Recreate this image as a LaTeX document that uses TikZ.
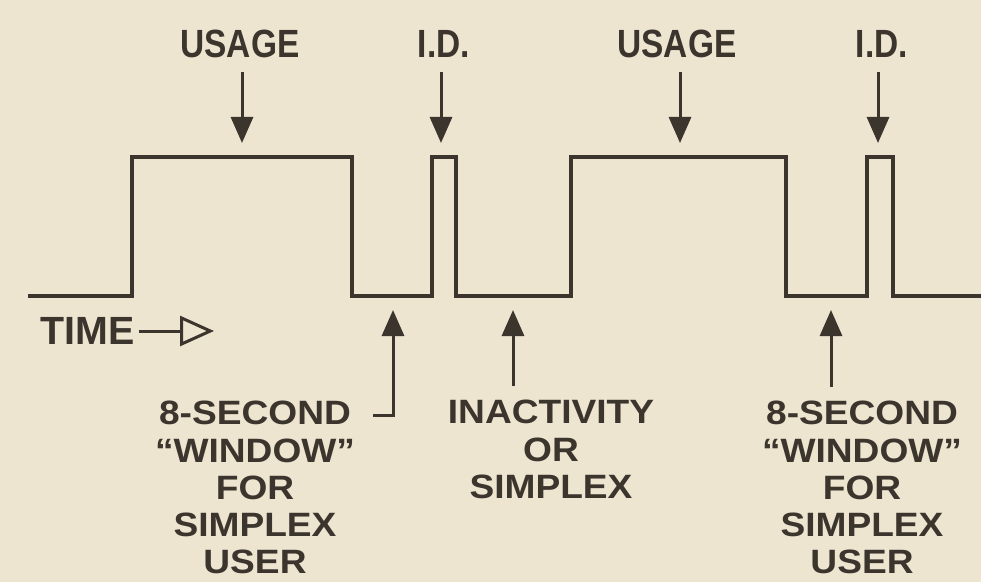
\documentclass[tikz,border=0pt]{standalone}
\usepackage{fontspec}
\setmainfont{Liberation Sans}
\newfontfamily\narrowsf[FakeStretch=0.85,Ligatures=TeX]{Liberation Sans Bold}
\newfontfamily\widesf[FakeStretch=1.1,Ligatures=TeX]{Liberation Sans Bold}
\newfontfamily\plainsf[Ligatures=TeX]{Liberation Sans Bold}
\usetikzlibrary{arrows.meta,positioning}
\definecolor{cInk}{HTML}{3B352E}
\definecolor{cPaper}{HTML}{EDE5D0}
\tikzset{
  >={Triangle[length=6.5mm,width=5.5mm]},
  wave/.style={line width=0.8mm,cInk,line join=miter},
  ar/.style ={->,line width=0.75mm,cInk},
  toplbl/.style={font=\narrowsf\fontsize{28}{30}\selectfont,text=cInk,inner sep=0pt},
  timelbl/.style={font=\plainsf\fontsize{28}{30}\selectfont,text=cInk,inner sep=0pt},
  botlbl/.style={font=\widesf\fontsize{24}{26.5}\selectfont,text=cInk,align=center,inner sep=0pt,anchor=north},
}

\begin{document}
\begin{tikzpicture}[x=0.25mm,y=-0.25mm]
\fill[cPaper] (0,0) rectangle (981,582);
\useasboundingbox (0,0) rectangle (981,582);
% the signal
\draw[wave] (28,296) -- (132,296) -- (132,157) -- (352,157) -- (352,296)
  -- (432,296) -- (432,157) -- (456,157) -- (456,296)
  -- (571,296) -- (571,157) -- (786,157) -- (786,296)
  -- (867,296) -- (867,157) -- (893,157) -- (893,296) -- (981,296);
% labels above
\node[toplbl] (usage1) at (240,44) {USAGE};
\node[toplbl] (id1)    at (444,44) {I.D.};
\node[toplbl] (usage2) at (677,44) {USAGE};
\node[toplbl] (id2)    at (882,44) {I.D.};
\coordinate (u1) at (242,143);
\coordinate (i1) at (441,143);
\coordinate (u2) at (680,143);
\coordinate (i2) at (878,143);
\draw[ar,shorten <=3.5mm] (usage1.south -| u1) -- (u1);
\draw[ar,shorten <=3.5mm] (id1.south -| i1) -- (i1);
\draw[ar,shorten <=3.5mm] (usage2.south -| u2) -- (u2);
\draw[ar,shorten <=3.5mm] (id2.south -| i2) -- (i2);
% time axis
\node[timelbl,anchor=west] (time) at (40,331) {TIME};
\coordinate (tend) at (214,331);
\draw[-{Triangle[open,length=8.5mm,width=7.5mm]},line width=0.75mm,cInk,shorten <=1mm] (time) -- (tend);
% labels below
\node[botlbl] (win1)  at (255,401) {8-SECOND\\``WINDOW''\\FOR\\SIMPLEX\\USER};
\node[botlbl] (inact) at (551,400) {INACTIVITY\\OR\\SIMPLEX};
\node[botlbl] (win2)  at (862,401) {8-SECOND\\``WINDOW''\\FOR\\SIMPLEX\\USER};
\coordinate (w1) at (373,415);
\coordinate (t1) at (393,310);
\coordinate (n1) at (513,310);
\coordinate (t2) at (831,310);
\draw[ar] (w1) -| (t1);
\draw[ar,shorten <=3.5mm] (inact.north -| n1) -- (n1);
\draw[ar,shorten <=3.5mm] (win2.north -| t2) -- (t2);
\end{tikzpicture}
\end{document}
